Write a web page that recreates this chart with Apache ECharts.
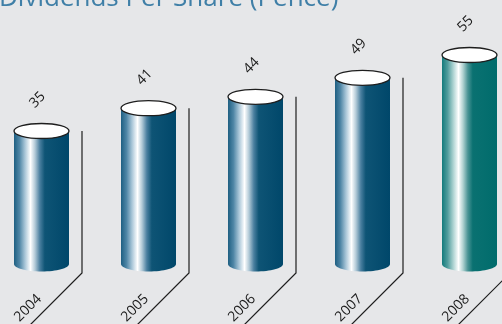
<!DOCTYPE html>
<html><head><meta charset="utf-8">
<script src="https://cdn.jsdelivr.net/npm/echarts@6/dist/echarts.min.js"></script>
<style>html,body{margin:0;padding:0;background:#e6e7e9;}#c{width:502px;height:324px;}</style>
</head><body><div id="c"></div>
<script>
const title = 'Dividends Per Share (Pence)';
const years = ['2004', '2005', '2006', '2007', '2008'];
const values = [35, 41, 44, 49, 55];

const blueGrad = [
  {offset: 0, color: '#1e5f82'}, {offset: 0.1, color: '#4f86a6'}, {offset: 0.2, color: '#a9c6d8'},
  {offset: 0.3, color: '#ffffff'}, {offset: 0.38, color: '#b4cbd8'}, {offset: 0.47, color: '#4a7f9f'},
  {offset: 0.56, color: '#0e5475'}, {offset: 1, color: '#00476a'}
];
const tealGrad = [
  {offset: 0, color: '#137b7c'}, {offset: 0.1, color: '#4f9c9c'}, {offset: 0.2, color: '#a8d0cf'},
  {offset: 0.3, color: '#ffffff'}, {offset: 0.38, color: '#b2d3d2'}, {offset: 0.47, color: '#4a9495'},
  {offset: 0.56, color: '#0a7171'}, {offset: 1, color: '#006c6c'}
];

const chart = echarts.init(document.getElementById('c'), null, {renderer: 'canvas'});
chart.setOption({
  backgroundColor: '#e6e7e9',
  animation: false,
  graphic: [{
    type: 'text', x: -1, y: -1,
    style: {text: title, fill: '#3f7fa7', font: '26px "Open Sans", "Noto Sans", sans-serif',
      align: 'left', verticalAlign: 'middle'}
  }],
  grid: {left: 41.5, right: 32.5, top: 55, bottom: 60},
  xAxis: {type: 'category', data: years, boundaryGap: false, show: false},
  yAxis: {type: 'value', min: 0, max: 55, show: false},
  series: [{
    type: 'custom',
    data: values.map((v, i) => [i, v]),
    clip: false,
    renderItem: function (params, api) {
      const i = api.value(0);
      const v = api.value(1);
      const top = api.coord([i, v]);
      const base = api.coord([i, 0]);
      const cx = top[0], ty = top[1], by = base[1];
      const rx = 27.5, ry = 7.5;
      const stops = i === years.length - 1 ? tealGrad : blueGrad;
      const grad = () => new echarts.graphic.LinearGradient(0, 0, 1, 0, stops);
      const lx = cx + 40.5, ly = by + 9;
      return {
        type: 'group',
        children: [
          {type: 'polyline', shape: {points: [[lx, ty], [lx, ly], [lx - 70, ly + 70]]},
            style: {stroke: '#1e1e1e', lineWidth: 1.2, fill: null}},
          {type: 'ellipse', shape: {cx: cx, cy: by, rx: rx, ry: ry}, style: {fill: grad()}},
          {type: 'rect', shape: {x: cx - rx, y: ty, width: rx * 2, height: by - ty}, style: {fill: grad()}},
          {type: 'ellipse', shape: {cx: cx, cy: ty, rx: rx, ry: ry},
            style: {fill: '#ffffff', stroke: '#1e1e1e', lineWidth: 1.3}},
          {type: 'text', x: cx - 4, y: ty - 31, rotation: Math.PI / 4,
            style: {text: String(v), fill: '#1a1a1a', font: '14px "Open Sans", "Noto Sans", sans-serif',
              align: 'center', verticalAlign: 'middle'}},
          {type: 'text', x: cx - 13.5, y: by + 44, rotation: Math.PI / 4,
            style: {text: years[i], fill: '#1a1a1a', font: '14px "Open Sans", "Noto Sans", sans-serif',
              align: 'center', verticalAlign: 'middle'}}
        ]
      };
    }
  }]
});
</script></body></html>
